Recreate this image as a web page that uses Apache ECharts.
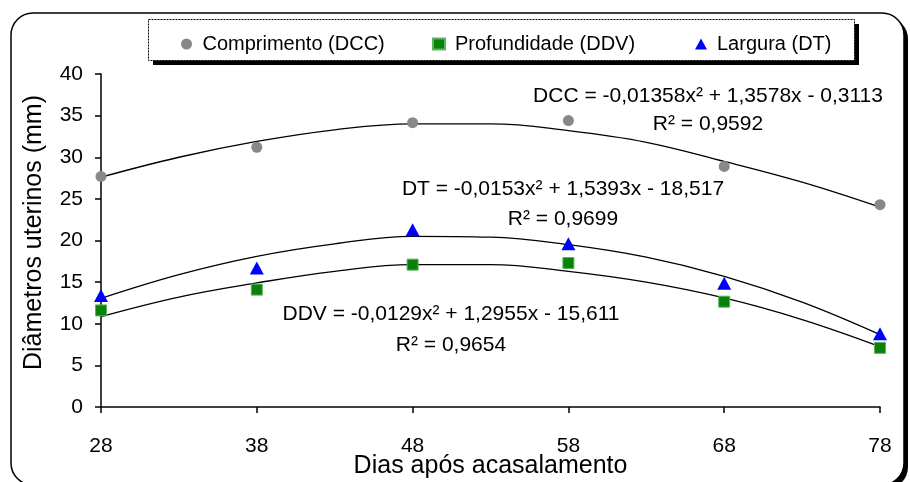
<!DOCTYPE html>
<html>
<head>
<meta charset="utf-8">
<script src="https://cdn.jsdelivr.net/npm/echarts@6/dist/echarts.min.js"></script>
<style>html,body{margin:0;padding:0;background:#fff}#c{width:910px;height:482px}</style>
</head>
<body>
<div id="c"></div>
<script>
// Observed data (days after mating)
var days = [28, 38, 48, 58, 68, 78];
var dcc = [27.7, 31.2, 34.15, 34.4, 28.9, 24.3];
var ddv = [11.6, 14.1, 17.1, 17.3, 12.65, 7.1];
var dt  = [13.4, 16.7, 21.3, 19.6, 14.85, 8.8];

// Trend curves
var trendDays = [28, 33, 38, 43, 48, 53, 58, 63, 68, 73, 78];
var dccTrend = [27.6, 30.0, 31.9, 33.3, 34.0, 34.0, 33.2, 31.8, 29.5, 27.0, 24.0];
var dtTrend  = [13.05, 15.9, 18.1, 19.6, 20.5, 20.4, 19.5, 18.0, 15.7, 12.6, 8.7];
var ddvTrend = [10.85, 13.2, 14.9, 16.3, 17.1, 17.1, 16.3, 15.0, 13.1, 10.5, 7.25];

var xTicks = [28, 38, 48, 58, 68, 78];
var seriesNames = ['Comprimento (DCC)', 'Profundidade (DDV)', 'Largura (DT)'];
var eqDCC = ['DCC = -0,01358x² + 1,3578x - 0,3113', 'R² = 0,9592'];
var eqDT  = ['DT = -0,0153x² + 1,5393x - 18,517', 'R² = 0,9699'];
var eqDDV = ['DDV = -0,0129x² + 1,2955x - 15,611', 'R² = 0,9654'];

function pairs(xs, ys) { return xs.map(function (x, i) { return [x, ys[i]]; }); }

var FONT = "'Liberation Sans', Arial, sans-serif";
var chart = echarts.init(document.getElementById('c'), null, {renderer: 'canvas'});

function eqText(lines, cx, cy1, cy2) {
  return [
    {type: 'text', x: cx, y: cy1, z: 50, style: {text: lines[0], fill: '#000', font: '21px ' + FONT, align: 'center', verticalAlign: 'middle'}},
    {type: 'text', x: cx, y: cy2, z: 50, style: {text: lines[1], fill: '#000', font: '21px ' + FONT, align: 'center', verticalAlign: 'middle'}}
  ];
}

var graphics = [
  {type: 'rect', z: -10, silent: true, shape: {x: 15, y: 17, width: 893, height: 472, r: 22}, style: {fill: '#000'}},
  {type: 'rect', z: -9, silent: true, shape: {x: 11, y: 13, width: 893, height: 472, r: 22}, style: {fill: '#fff', stroke: '#000', lineWidth: 1.5}},
  {type: 'rect', z: -8, silent: true, shape: {x: 153, y: 24, width: 706, height: 41}, style: {fill: '#000'}},
  {type: 'rect', z: -7, silent: true, shape: {x: 148.5, y: 19.5, width: 706, height: 41}, style: {fill: '#fff', stroke: '#000', lineWidth: 1, lineDash: [2, 1]}}
].concat(eqText(eqDCC, 708, 96, 124))
 .concat(eqText(eqDT, 563, 189, 219))
 .concat(eqText(eqDDV, 451, 314, 345));

function legendAt(name, left) {
  return {
    data: [name], left: left, top: 29,
    itemWidth: 12, itemHeight: 11,
    textStyle: {fontSize: 20, color: '#000', fontFamily: FONT, padding: [0, 0, 0, 5]}
  };
}

var option = {
  animation: false,
  backgroundColor: 'transparent',
  textStyle: {fontFamily: FONT},
  graphic: graphics,
  legend: [legendAt(seriesNames[0], 176), legendAt(seriesNames[1], 427), legendAt(seriesNames[2], 690)],
  grid: {left: 101, right: 30, top: 74, bottom: 75, containLabel: false, outerBoundsMode: 'none'},
  xAxis: {
    type: 'value', min: 28, max: 78,
    name: 'Dias após acasalamento', nameLocation: 'middle', nameGap: 47, nameMoveOverlap: false,
    nameTextStyle: {fontSize: 25, color: '#000', fontFamily: FONT},
    axisLine: {show: true, onZero: false, lineStyle: {color: '#000', width: 1.5}},
    axisTick: {show: true, inside: false, length: 6, lineStyle: {color: '#000', width: 1.5}, customValues: xTicks},
    axisLabel: {fontSize: 21, color: '#000', margin: 29, customValues: xTicks, fontFamily: FONT},
    splitLine: {show: false}
  },
  yAxis: {
    type: 'value', min: 0, max: 40, interval: 5,
    name: 'Diâmetros uterinos (mm)', nameLocation: 'middle', nameGap: 54, nameMoveOverlap: false,
    nameTextStyle: {fontSize: 25, color: '#000', fontFamily: FONT, padding: [0, 0, 0, 16]},
    axisLine: {show: true, lineStyle: {color: '#000', width: 1.5}},
    axisTick: {show: true, inside: false, length: 6, lineStyle: {color: '#000', width: 1.5}},
    axisLabel: {fontSize: 21, color: '#000', margin: 18, fontFamily: FONT},
    splitLine: {show: false}
  },
  series: [
    {name: 'DCC tendência', type: 'line', data: pairs(trendDays, dccTrend), smooth: 0.4, symbol: 'none', silent: true, z: 3,
     lineStyle: {color: '#000', width: 1.3}},
    {name: 'DT tendência', type: 'line', data: pairs(trendDays, dtTrend), smooth: 0.4, symbol: 'none', silent: true, z: 3,
     lineStyle: {color: '#000', width: 1.3}},
    {name: 'DDV tendência', type: 'line', data: pairs(trendDays, ddvTrend), smooth: 0.4, symbol: 'none', silent: true, z: 3,
     lineStyle: {color: '#000', width: 1.3}},
    {name: seriesNames[0], type: 'scatter', data: pairs(days, dcc), symbol: 'circle', symbolSize: 11, z: 5,
     itemStyle: {color: '#888888', opacity: 1}},
    {name: seriesNames[1], type: 'scatter', data: pairs(days, ddv), symbol: 'rect', symbolSize: 11, z: 5,
     itemStyle: {color: '#0a820a', borderColor: '#5fb35f', borderWidth: 1, opacity: 1}},
    {name: seriesNames[2], type: 'scatter', data: pairs(days, dt), symbol: 'triangle', symbolSize: [14, 13], z: 6,
     itemStyle: {color: '#0000ff', opacity: 1}}
  ]
};
chart.setOption(option);
</script>
</body>
</html>
